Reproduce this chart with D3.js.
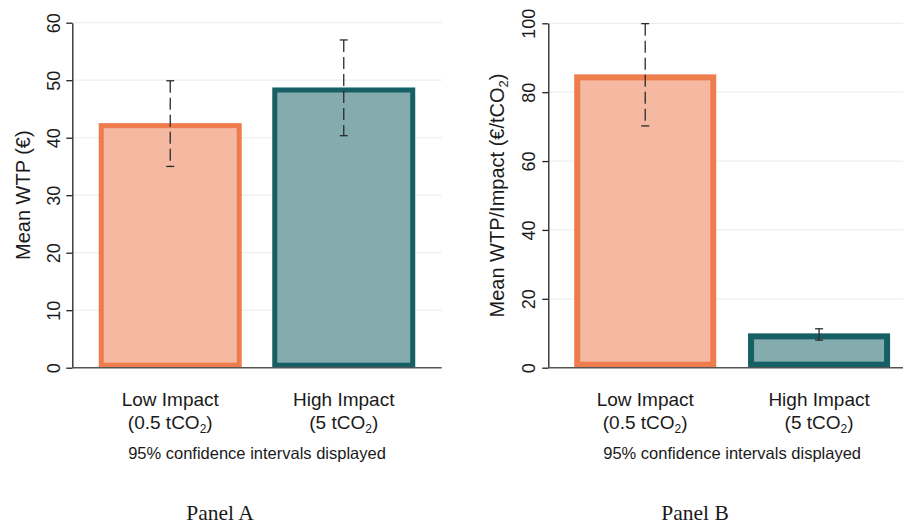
<!DOCTYPE html>
<html>
<head>
<meta charset="utf-8">
<script src="https://cdn.jsdelivr.net/npm/d3@7"></script>
<style>
  html, body { margin: 0; padding: 0; background: #fff; }
  svg { display: block; }
  text { font-family: "Liberation Sans", Arial, Helvetica, sans-serif; fill: #1a1a1a; }
</style>
</head>
<body>
<svg id="chart" width="903" height="526"></svg>
<script>
// ---------- DATA ----------
const categories = ["Low Impact", "High Impact"];
const categorySubs = ["(0.5 tCO", "(5 tCO"];
const noteText = "95% confidence intervals displayed";

const panelAMean = [42.1, 48.3];
const panelALow  = [35.0, 40.35];
const panelAHigh = [49.9, 57.0];
const panelATicks = [0, 10, 20, 30, 40, 50, 60];

const panelBMean = [84.3, 9.1];
const panelBLow  = [70.2, 8.0];
const panelBHigh = [99.9, 11.3];
const panelBTicks = [0, 20, 40, 60, 80, 100];

const panelLabels = ["Panel A", "Panel B"];

// ---------- STYLE ----------
const strokeColors = ["#ef7c4c", "#165f64"];
const fillColors   = ["#f5b9a1", "#84abae"];

const svg = d3.select("#chart");

function drawPanel(cfg) {
  const g = svg.append("g");
  const x = d3.scaleBand().domain(categories)
    .range([cfg.x0, cfg.x1]).paddingInner(cfg.pi).paddingOuter(cfg.po);
  const y = d3.scaleLinear().domain(cfg.domain).range([cfg.yBottom, cfg.yTop]);

  // gridlines
  g.append("g").selectAll("line").data(cfg.ticks.slice(1)).join("line")
    .attr("x1", cfg.x0).attr("x2", cfg.x1)
    .attr("y1", d => y(d)).attr("y2", d => y(d))
    .attr("stroke", "#e9f1f2").attr("stroke-width", 1.3);

  // bars
  const sw = cfg.sw;
  g.append("g").selectAll("rect").data(cfg.mean).join("rect")
    .attr("x", (d, i) => x(categories[i]) + sw / 2)
    .attr("width", x.bandwidth() - sw)
    .attr("y", d => y(d))
    .attr("height", d => y(0) - y(d) - sw / 2)
    .attr("fill", (d, i) => fillColors[i])
    .attr("stroke", (d, i) => strokeColors[i])
    .attr("stroke-width", sw);

  // error bars
  const eb = g.append("g");
  cfg.mean.forEach((m, i) => {
    const cx = x(categories[i]) + x.bandwidth() / 2;
    eb.append("line")
      .attr("x1", cx).attr("x2", cx)
      .attr("y1", y(cfg.hi[i])).attr("y2", y(cfg.lo[i]))
      .attr("stroke", "#2b2b2b").attr("stroke-width", 1.3)
      .attr("stroke-dasharray", "12,5");
    [cfg.hi[i], cfg.lo[i]].forEach(v => {
      eb.append("line")
        .attr("x1", cx - 4).attr("x2", cx + 4)
        .attr("y1", y(v)).attr("y2", y(v))
        .attr("stroke", "#2b2b2b").attr("stroke-width", 1.3);
    });
  });

  // y axis
  const ax = g.append("g").attr("transform", `translate(${cfg.x0},0)`)
    .call(d3.axisLeft(y).tickValues(cfg.ticks).tickSize(6).tickSizeOuter(0).tickPadding(0));
  ax.select(".domain").attr("stroke", "#222").attr("stroke-width", 1.3);
  ax.selectAll(".tick line").attr("stroke", "#222").attr("stroke-width", 1.3);
  ax.selectAll(".tick text")
    .attr("x", null).attr("dy", null)
    .attr("text-anchor", "middle")
    .attr("transform", `translate(${-cfg.tickLabelOff},0) rotate(-90)`)
    .style("font-size", "18px")
    .style("font-family", "'Liberation Sans', Arial, sans-serif")
    .attr("fill", "#1a1a1a");

  // x axis baseline
  g.append("line")
    .attr("x1", cfg.x0).attr("x2", cfg.x1)
    .attr("y1", y(0)).attr("y2", y(0))
    .attr("stroke", "#555").attr("stroke-width", 1.5);

  // y title
  const t = g.append("text")
    .attr("transform", `translate(${cfg.titleX},${(cfg.yTop + cfg.yBottom) / 2}) rotate(-90)`)
    .attr("text-anchor", "middle")
    .style("font-size", "20px");
  cfg.title(t);

  // category labels
  categories.forEach((c, i) => {
    const cx = x(c) + x.bandwidth() / 2;
    g.append("text").attr("x", cx).attr("y", cfg.yBottom + 38.5)
      .attr("text-anchor", "middle").style("font-size", "19px").text(c);
    const s = g.append("text").attr("x", cx).attr("y", cfg.yBottom + 61.5)
      .attr("text-anchor", "middle").style("font-size", "19px");
    s.append("tspan").text(categorySubs[i]);
    s.append("tspan").attr("dy", 4).style("font-size", "12px").text("2");
    s.append("tspan").attr("dy", -4).text(")");
  });

  // note
  g.append("text").attr("x", (cfg.x0 + cfg.x1) / 2).attr("y", cfg.yBottom + 91.5)
    .attr("text-anchor", "middle").style("font-size", "16.5px").text(noteText);

  // panel label
  g.append("text").attr("x", cfg.labelX).attr("y", 520)
    .attr("text-anchor", "middle").style("font-size", "21.5px")
    .style("font-family", "'Liberation Serif', 'Times New Roman', serif")
    .text(cfg.label);
}

drawPanel({
  x0: 72.3, x1: 441.7, pi: 0.176, po: 0.1525,
  yTop: 22.7, yBottom: 367.7, domain: [0, 60], ticks: panelATicks,
  mean: panelAMean, lo: panelALow, hi: panelAHigh, sw: 5,
  tickLabelOff: 12, titleX: 29.5, labelX: 220, label: panelLabels[0],
  title: t => t.text("Mean WTP (€)")
});

drawPanel({
  x0: 548.3, x1: 916, pi: 0.183, po: 0.149,
  yTop: 23.3, yBottom: 367.7, domain: [0, 100], ticks: panelBTicks,
  mean: panelBMean, lo: panelBLow, hi: panelBHigh, sw: 6,
  tickLabelOff: 13, titleX: 503.5, labelX: 695, label: panelLabels[1],
  title: t => {
    t.append("tspan").text("Mean WTP/Impact (€/tCO");
    t.append("tspan").attr("dy", 4).style("font-size", "13px").text("2");
    t.append("tspan").attr("dy", -4).text(")");
  }
});
</script>
</body>
</html>
